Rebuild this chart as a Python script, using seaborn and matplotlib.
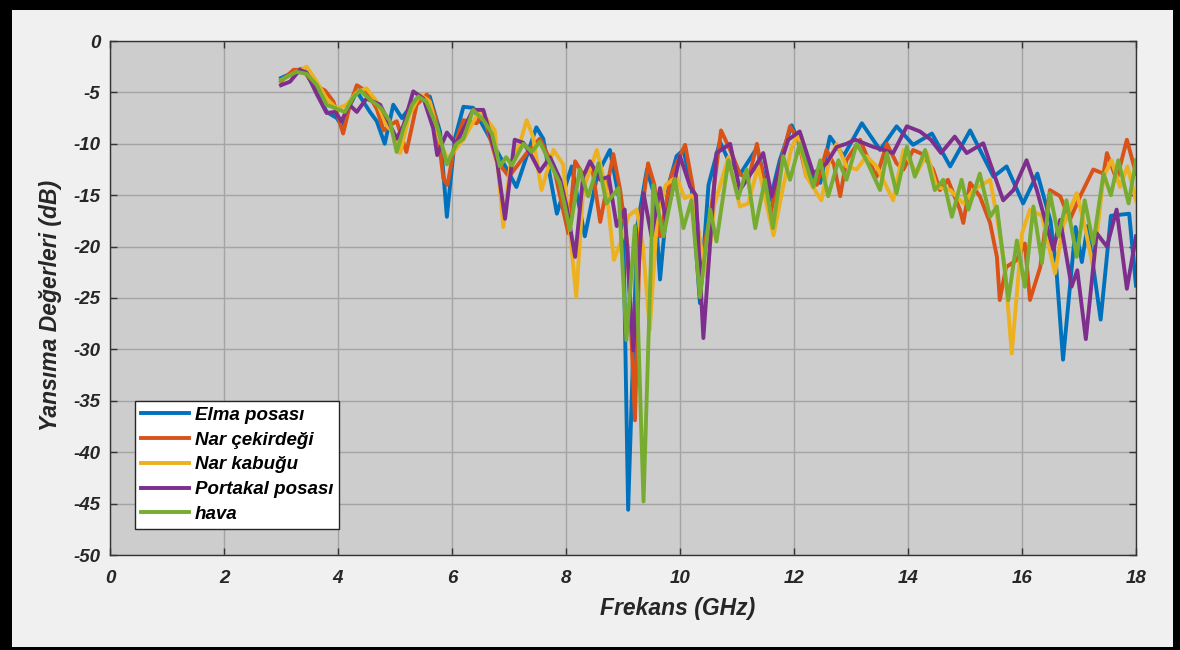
import numpy as np
import pandas as pd
import matplotlib
matplotlib.use("Agg")
import matplotlib.pyplot as plt
from matplotlib.patches import Rectangle
from matplotlib.lines import Line2D
import seaborn as sns

plt.rcParams['font.family'] = ['Liberation Sans', 'DejaVu Sans']

series_names = ["Elma posası", "Nar çekirdeği", "Nar kabuğu", "Portakal posası", "hava"]
colors = ["#0072BD", "#D95319", "#EDB120", "#7E2F8E", "#77AC30"]

elma_f = [3.00, 3.36, 3.51, 3.80, 3.98, 4.06, 4.18, 4.33, 4.56, 4.68, 4.82, 4.97, 5.12, 5.38, 5.61, 5.79,
          5.91, 6.05, 6.20, 6.37, 6.72, 7.13, 7.48, 7.60, 7.84, 8.10, 8.33, 8.55, 8.77, 8.92, 9.00, 9.09,
          9.25, 9.42, 9.55, 9.65, 9.80, 9.94, 10.06, 10.20, 10.35, 10.50, 10.70, 10.85, 11.05, 11.35, 11.58,
          11.75, 11.96, 12.34, 12.46, 12.63, 12.87, 13.19, 13.51, 13.80, 14.09, 14.42, 14.74, 15.09, 15.50,
          15.73, 16.02, 16.27, 16.50, 16.60, 16.72, 16.94, 17.05, 17.15, 17.38, 17.56, 17.88, 18.00]
elma_db = [-3.6, -2.7, -3.3, -6.9, -7.5, -8.2, -6.6, -4.9, -6.9, -7.8, -10.0, -6.2, -7.5, -5.6, -5.4, -8.8,
           -17.1, -9.5, -6.4, -6.5, -10.0, -14.2, -8.4, -9.5, -16.8, -12.2, -19.0, -13.0, -10.6, -15.0, -16.4, -45.6,
           -18.0, -12.5, -15.0, -23.2, -14.0, -11.2, -10.6, -14.0, -25.5, -14.0, -9.8, -11.6, -13.0, -10.4, -15.5,
           -11.6, -8.2, -13.2, -13.8, -9.3, -11.2, -8.0, -10.6, -8.3, -10.1, -9.0, -12.2, -8.7, -13.2,
           -12.2, -15.8, -12.9, -17.5, -22.0, -31.0, -18.1, -21.5, -18.0, -27.1, -17.0, -16.8, -23.8]

nar_c_f = [3.00, 3.22, 3.39, 3.57, 3.77, 3.92, 4.09, 4.21, 4.33, 4.50, 4.68, 4.80, 4.91, 5.03, 5.20, 5.38,
           5.56, 5.72, 5.85, 5.92, 6.05, 6.20, 6.43, 6.55, 6.78, 7.00, 7.31, 7.54, 7.78, 8.04, 8.16, 8.30,
           8.45, 8.60, 8.83, 8.95, 9.08, 9.21, 9.30, 9.44, 9.55, 9.65, 9.85, 10.09, 10.22, 10.38, 10.53, 10.72,
           10.88, 11.05, 11.20, 11.35, 11.52, 11.58, 11.75, 11.93, 12.07, 12.22, 12.40, 12.57, 12.70, 12.81,
           12.92, 13.16, 13.30, 13.45, 13.63, 13.80, 13.92, 14.09, 14.25, 14.44, 14.56, 14.70, 14.91, 14.97,
           15.09, 15.26, 15.44, 15.56, 15.61, 15.72, 15.91, 16.05, 16.14, 16.32, 16.49, 16.67, 16.84, 17.02,
           17.25, 17.43, 17.49, 17.66, 17.84, 18.00]
nar_c_db = [-3.95, -2.8, -2.8, -4.3, -4.8, -5.9, -9.0, -6.2, -4.3, -4.9, -6.6, -8.7, -8.2, -7.8, -10.8, -6.2,
            -5.2, -7.5, -13.4, -14.0, -10.0, -7.7, -8.0, -7.2, -11.6, -13.2, -10.9, -9.5, -12.2, -18.7, -11.7, -13.0,
            -12.0, -17.6, -11.0, -14.5, -20.0, -36.9, -18.0, -11.9, -14.0, -19.0, -13.0, -10.1, -14.0, -21.0, -17.1, -8.7,
            -10.6, -12.9, -13.5, -10.0, -15.1, -17.1, -12.2, -8.3, -9.6, -13.2, -14.0, -10.6, -12.0, -15.1,
            -11.6, -9.6, -11.5, -13.2, -10.0, -11.9, -12.5, -10.6, -11.0, -12.5, -14.5, -13.5, -16.4, -17.7,
            -13.8, -15.1, -17.7, -21.0, -25.2, -22.0, -21.3, -19.7, -25.2, -22.0, -14.5, -15.1, -17.4, -15.1,
            -12.5, -12.9, -10.9, -13.5, -9.6, -12.9]

nar_k_f = [3.00, 3.45, 3.63, 3.80, 3.98, 4.15, 4.33, 4.50, 4.68, 4.85, 5.00, 5.09, 5.25, 5.44, 5.61, 5.79,
           5.92, 6.20, 6.49, 6.75, 6.90, 7.02, 7.19, 7.31, 7.42, 7.57, 7.78, 7.95, 8.10, 8.18, 8.30, 8.54,
           8.71, 8.84, 8.95, 9.10, 9.24, 9.35, 9.47, 9.60, 9.75, 9.94, 10.08, 10.20, 10.47, 10.60, 10.85,
           11.05, 11.20, 11.37, 11.64, 11.78, 11.95, 12.07, 12.22, 12.48, 12.62, 12.75, 12.92, 13.10, 13.27,
           13.45, 13.74, 13.92, 14.15, 14.33, 14.50, 14.74, 14.97, 15.15, 15.44, 15.56, 15.70, 15.82, 16.00,
           16.14, 16.35, 16.58, 16.72, 16.96, 17.10, 17.25, 17.43, 17.57, 17.72, 17.85, 18.00]
nar_k_db = [-3.8, -2.5, -4.0, -5.6, -6.6, -6.2, -5.0, -4.6, -5.9, -8.2, -9.1, -10.9, -7.2, -5.2, -5.9, -9.8,
            -11.5, -9.6, -6.7, -8.7, -18.1, -12.2, -10.0, -7.7, -9.3, -14.5, -10.6, -12.0, -20.3, -24.9, -14.5, -10.6,
            -14.5, -21.3, -19.7, -17.0, -16.4, -20.0, -28.1, -17.0, -14.0, -13.2, -15.3, -15.0, -23.0, -16.0, -11.3,
            -16.1, -15.8, -12.2, -18.9, -15.0, -10.5, -9.0, -13.2, -15.5, -11.6, -10.0, -12.2, -12.5, -11.2,
            -12.2, -15.5, -10.6, -12.9, -10.9, -14.2, -14.5, -15.8, -14.5, -13.5, -17.1, -22.0, -30.4, -18.7,
            -16.4, -17.0, -22.6, -18.0, -14.8, -18.0, -22.0, -13.2, -11.6, -14.2, -12.2, -15.5]

portakal_f = [3.00, 3.16, 3.33, 3.45, 3.63, 3.80, 3.95, 4.06, 4.20, 4.33, 4.50, 4.74, 4.88, 5.03, 5.15, 5.32,
              5.50, 5.67, 5.74, 5.91, 6.07, 6.37, 6.55, 6.78, 6.93, 7.10, 7.25, 7.37, 7.54, 7.72, 7.90, 8.01,
              8.16, 8.30, 8.42, 8.60, 8.75, 8.89, 9.03, 9.18, 9.36, 9.50, 9.65, 9.75, 10.00, 10.18, 10.28, 10.41,
              10.64, 10.88, 11.05, 11.29, 11.46, 11.61, 11.75, 11.90, 12.10, 12.34, 12.57, 12.75, 12.92, 13.07,
              13.39, 13.57, 13.74, 13.98, 14.21, 14.40, 14.58, 14.82, 15.03, 15.32, 15.67, 15.85, 16.08, 16.26,
              16.55, 16.67, 16.87, 16.97, 17.12, 17.31, 17.49, 17.66, 17.84, 18.00]
portakal_db = [-4.3, -3.95, -2.8, -3.1, -5.2, -7.0, -6.9, -7.8, -6.2, -6.9, -5.6, -6.2, -7.8, -9.5, -8.2, -4.9,
               -5.6, -8.5, -11.1, -8.9, -10.0, -6.7, -6.7, -11.3, -17.3, -9.6, -9.9, -10.9, -12.7, -11.3, -13.5, -16.1,
               -21.0, -13.2, -11.7, -13.5, -13.2, -18.0, -16.4, -30.1, -14.8, -19.0, -14.3, -17.4, -11.2, -14.2, -15.0, -28.9,
               -10.9, -10.0, -14.5, -12.5, -10.9, -15.1, -12.2, -9.6, -8.8, -12.9, -11.9, -10.3, -10.0, -9.6,
               -10.3, -10.6, -10.9, -8.3, -8.8, -9.6, -10.9, -9.3, -10.9, -9.95, -15.5, -14.5, -11.6, -14.5,
               -20.3, -17.4, -23.9, -22.3, -29.0, -18.7, -20.0, -16.4, -24.1, -19.0]

hava_f = [3.00, 3.27, 3.45, 3.63, 3.80, 3.98, 4.12, 4.25, 4.39, 4.56, 4.75, 4.91, 5.03, 5.15, 5.30, 5.41,
          5.55, 5.75, 5.91, 6.08, 6.20, 6.37, 6.55, 6.70, 6.84, 6.95, 7.05, 7.25, 7.40, 7.54, 7.72, 7.89,
          8.07, 8.24, 8.39, 8.57, 8.71, 8.92, 9.06, 9.21, 9.36, 9.53, 9.71, 9.91, 10.06, 10.20, 10.35, 10.53,
          10.64, 10.85, 11.02, 11.17, 11.32, 11.49, 11.63, 11.81, 11.93, 12.10, 12.34, 12.46, 12.60, 12.78,
          12.92, 13.10, 13.27, 13.51, 13.63, 13.80, 13.98, 14.12, 14.30, 14.47, 14.62, 14.77, 14.94, 15.06,
          15.26, 15.44, 15.56, 15.76, 15.91, 16.05, 16.20, 16.35, 16.49, 16.64, 16.78, 16.96, 17.10, 17.25,
          17.43, 17.56, 17.69, 17.87, 18.00]
hava_db = [-3.8, -3.0, -3.2, -4.3, -6.2, -6.6, -6.9, -5.6, -4.8, -5.7, -6.5, -7.8, -10.8, -8.5, -6.2, -5.4,
           -5.9, -8.5, -12.0, -10.0, -9.5, -6.7, -7.7, -9.0, -12.2, -11.3, -12.1, -10.0, -10.8, -9.8, -11.9, -13.8,
           -18.4, -12.5, -15.1, -11.9, -15.8, -14.3, -29.1, -18.0, -44.8, -14.0, -19.0, -13.4, -18.2, -15.5, -24.9, -16.4,
           -19.5, -11.6, -15.3, -12.5, -18.2, -13.5, -18.2, -11.2, -13.5, -10.0, -14.2, -11.6, -15.1, -11.6,
           -13.5, -10.0, -11.6, -14.5, -10.9, -14.8, -10.3, -13.2, -10.6, -14.5, -13.5, -17.1, -13.5, -16.4,
           -12.9, -17.1, -16.1, -25.2, -19.4, -23.9, -16.1, -21.6, -14.8, -19.0, -15.5, -21.0, -15.5, -19.7,
           -12.9, -15.0, -11.6, -15.8, -11.6]

x_ticks = [0, 2, 4, 6, 8, 10, 12, 14, 16, 18]
y_ticks = [0, -5, -10, -15, -20, -25, -30, -35, -40, -45, -50]

freqs = [elma_f, nar_c_f, nar_k_f, portakal_f, hava_f]
vals = [elma_db, nar_c_db, nar_k_db, portakal_db, hava_db]
frames = []
for name, f, v in zip(series_names, freqs, vals):
    frames.append(pd.DataFrame({"Frekans": f, "dB": v, "seri": name}))
df = pd.concat(frames, ignore_index=True)

fig = plt.figure(figsize=(11.8, 6.5), dpi=100)
fig.patch.set_facecolor("black")
fig.add_artist(Rectangle((12 / 1180, 3 / 650), 1161 / 1180, 637 / 650, transform=fig.transFigure,
                         facecolor="#f0f0f0", edgecolor="none", zorder=-10))
ax = fig.add_axes([110 / 1180, 95 / 650, 1026 / 1180, 514 / 650])
ax.set_facecolor("#cdcdcd")

sns.lineplot(data=df, x="Frekans", y="dB", hue="seri", hue_order=series_names,
             palette=colors, sort=False, estimator=None, units="seri", ax=ax, linewidth=2.8,
             legend=False)

ax.set_xlim(0, 18)
ax.set_ylim(-50, 0)
ax.set_xticks(x_ticks)
ax.set_yticks(y_ticks)
ax.set_xticklabels([str(t) for t in x_ticks])
ax.set_yticklabels([str(t) for t in y_ticks])
ax.grid(True, color="#a4a4a4", linewidth=1.0)
ax.set_axisbelow(True)
for s in ax.spines.values():
    s.set_color("#333333")
    s.set_linewidth(1.0)
ax.tick_params(direction="in", length=5, width=1, color="#333333", top=True, right=True,
               labelsize=13.5, labelcolor="#262626")
ax.tick_params(axis="x", pad=11)
ax.tick_params(axis="y", pad=7)
for lab in ax.get_xticklabels() + ax.get_yticklabels():
    lab.set_fontweight("bold")
    lab.set_fontstyle("italic")

ax.set_xlabel("Frekans (GHz)", fontsize=16.5, fontweight="bold", fontstyle="italic", color="#262626")
ax.set_ylabel("Yansıma Değerleri (dB)", fontsize=16.5, fontweight="bold", fontstyle="italic", color="#262626")
ax.xaxis.set_label_coords(0.553, -0.082)
ax.yaxis.set_label_coords(-0.047, 0.485)

handles = [Line2D([0], [0], color=c, lw=2.8) for c in colors]
leg = ax.legend(handles, series_names, loc="upper left", bbox_to_anchor=(25 / 1026, 154 / 514),
                borderaxespad=0, frameon=True, fancybox=False, framealpha=1, edgecolor="#262626",
                prop={"weight": "bold", "style": "italic", "size": 13.5}, handlelength=2.6,
                handletextpad=0.3, labelspacing=0.41, borderpad=0.3)
leg.get_frame().set_linewidth(1.0)

fig.savefig("out.png", dpi=100, facecolor=fig.get_facecolor())
